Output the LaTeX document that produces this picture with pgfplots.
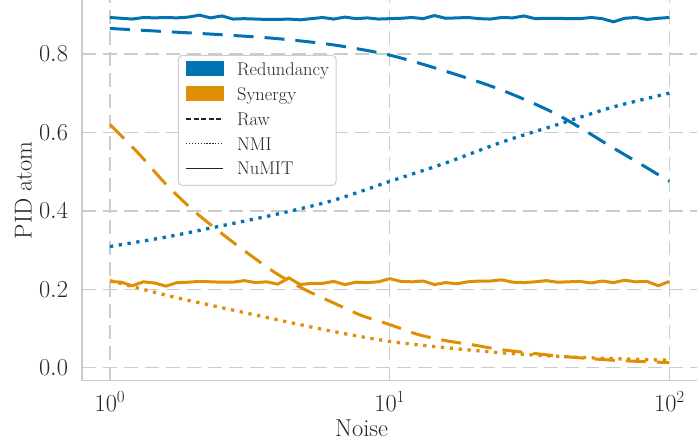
\RequirePackage{fix-cm}
\documentclass[border=0pt]{standalone}
\usepackage{pgfplots}
\pgfplotsset{compat=1.18}
\usetikzlibrary{calc}
\definecolor{cbblue}{RGB}{1,115,178}
\definecolor{cborange}{RGB}{222,143,5}
\definecolor{gridgray}{RGB}{204,204,204}
\definecolor{txt}{RGB}{38,38,38}
\pgfplotstableread{
x r s
1.000 0.893 0.220
1.096 0.891 0.218
1.202 0.889 0.209
1.318 0.893 0.219
1.445 0.892 0.216
1.585 0.893 0.208
1.738 0.892 0.217
1.905 0.894 0.218
2.089 0.899 0.220
2.291 0.892 0.219
2.512 0.897 0.218
2.754 0.889 0.218
3.020 0.890 0.222
3.311 0.889 0.217
3.631 0.888 0.219
3.981 0.888 0.213
4.365 0.889 0.229
4.786 0.887 0.212
5.248 0.890 0.215
5.754 0.893 0.215
6.310 0.889 0.220
6.918 0.894 0.212
7.586 0.890 0.218
8.318 0.892 0.217
9.120 0.889 0.219
10.00 0.890 0.227
10.96 0.891 0.220
12.02 0.893 0.219
13.18 0.890 0.221
14.45 0.898 0.212
15.85 0.891 0.217
17.38 0.892 0.214
19.05 0.893 0.219
20.89 0.890 0.221
22.91 0.889 0.221
25.12 0.893 0.224
27.54 0.892 0.218
30.20 0.897 0.217
33.11 0.890 0.219
36.31 0.891 0.222
39.81 0.891 0.218
43.65 0.890 0.219
47.86 0.890 0.220
52.48 0.893 0.216
57.54 0.890 0.221
63.10 0.882 0.217
69.18 0.891 0.223
75.86 0.893 0.219
83.18 0.888 0.220
91.20 0.891 0.209
100.0 0.893 0.220
}\numit
\pgfplotstableread{
x y
1.000 0.865
1.585 0.857
2.512 0.849
3.981 0.839
6.310 0.823
10.00 0.797
15.85 0.756
25.12 0.708
39.81 0.645
63.10 0.560
79.43 0.518
100.0 0.475
}\rawred
\pgfplotstableread{
x y
1.000 0.309
1.585 0.333
2.512 0.362
3.981 0.392
6.310 0.427
10.00 0.475
15.85 0.522
25.12 0.575
39.81 0.620
63.10 0.665
100.0 0.700
}\nmired
\pgfplotstableread{
x y
1.000 0.620
1.259 0.548
1.585 0.468
1.995 0.400
2.512 0.342
3.162 0.288
3.981 0.238
5.012 0.198
6.310 0.165
7.943 0.133
10.00 0.110
12.59 0.085
15.85 0.069
19.95 0.058
25.12 0.046
39.81 0.030
63.10 0.019
100.0 0.013
}\rawsyn
\pgfplotstableread{
x y
1.000 0.222
1.585 0.185
2.512 0.153
3.981 0.122
6.310 0.092
10.00 0.067
15.85 0.051
25.12 0.038
39.81 0.029
63.10 0.023
100.0 0.019
}\nmisyn
\begin{document}
\begin{tikzpicture}
\begin{axis}[
  at={(0,0)}, anchor=south west,
  scale only axis, width=616bp, height=381bp,
  xmode=log, xmin=0.7943, xmax=125.89,
  ymin=-0.0331, ymax=0.9376,
  xtick={1,10,100}, minor xtick={}, ytick={0,0.2,0.4,0.6,0.8},
  y tick label style={/pgf/number format/fixed, /pgf/number format/fixed zerofill, /pgf/number format/precision=1},
  tick style={draw=none},
  axis x line*=bottom, axis y line*=left,
  axis line style={draw=gridgray, line width=1.6bp, -},
  xmajorgrids, ymajorgrids,
  grid style={draw=gridgray, line width=1.4bp, dash pattern=on 14bp off 7bp},
  tick label style={font=\fontsize{24.5}{29}\selectfont, text=txt, inner sep=0pt},
  yticklabel style={anchor=east, xshift=-13.7bp},
  xticklabel style={anchor=north, yshift=-10.7bp},
  label style={font=\fontsize{24.5}{29}\selectfont, text=txt, inner sep=0pt},
  xlabel={Noise},
  xlabel style={at={($(axis description cs:0.5,0)+(0,-55.7bp)$)}, anchor=base},
  legend cell align=left,
  legend style={at={(axis description cs:0.156,0.856)}, anchor=north west,
    draw=gridgray, line width=1bp, rounded corners=4bp, fill=white,
    font=\fontsize{18.5}{22}\selectfont, text=txt,
    inner xsep=7bp, inner ysep=6bp, row sep=6.9bp,
    nodes={inner sep=0pt, text height=13.5bp, text depth=4.5bp}},
]
\addlegendimage{legend image code/.code={\fill[cbblue, sharp corners] (0bp,-5.2bp) rectangle (37bp,8.8bp); \path[draw=none] (0bp,0bp) -- (51bp,0bp);}}
\addlegendentry{Redundancy}
\addlegendimage{legend image code/.code={\fill[cborange, sharp corners] (0bp,-5.2bp) rectangle (37bp,8.8bp); \path[draw=none] (0bp,0bp) -- (51bp,0bp);}}
\addlegendentry{Synergy}
\addlegendimage{legend image code/.code={\draw[black!85, line width=1.5bp, dash pattern=on 5bp off 2.5bp] (0bp,1.8bp) -- (37bp,1.8bp); \path[draw=none] (0bp,0bp) -- (51bp,0bp);}}
\addlegendentry{Raw}
\addlegendimage{legend image code/.code={\draw[black!85, line width=1.5bp, dash pattern=on 1.3bp off 1.6bp] (0bp,1.8bp) -- (37bp,1.8bp); \path[draw=none] (0bp,0bp) -- (51bp,0bp);}}
\addlegendentry{NMI}
\addlegendimage{legend image code/.code={\draw[black!85, line width=1.5bp] (0bp,1.8bp) -- (37bp,1.8bp); \path[draw=none] (0bp,0bp) -- (51bp,0bp);}}
\addlegendentry{NuMIT}
\addplot[cbblue, line width=3bp, smooth, dash pattern=on 20bp off 11bp, forget plot] table[x=x,y=y] {\rawred};
\addplot[cbblue, line width=3.3bp, smooth, dash pattern=on 3.3bp off 5.6bp, forget plot] table[x=x,y=y] {\nmired};
\addplot[cbblue, line width=3bp, forget plot] table[x=x,y=r] {\numit};
\addplot[cborange, line width=3bp, smooth, dash pattern=on 20bp off 11bp, forget plot] table[x=x,y=y] {\rawsyn};
\addplot[cborange, line width=3.3bp, smooth, dash pattern=on 3.3bp off 5.6bp, forget plot] table[x=x,y=y] {\nmisyn};
\addplot[cborange, line width=3bp, forget plot] table[x=x,y=s] {\numit};
\end{axis}
\node[rotate=90, anchor=base, inner sep=0pt, text=txt, font=\fontsize{24.5}{29}\selectfont] at (-50.3bp,190.5bp) {PID atom};
\pgfresetboundingbox
\path (-82bp,-65bp) rectangle (616.6bp,381bp);
\end{tikzpicture}
\end{document}
